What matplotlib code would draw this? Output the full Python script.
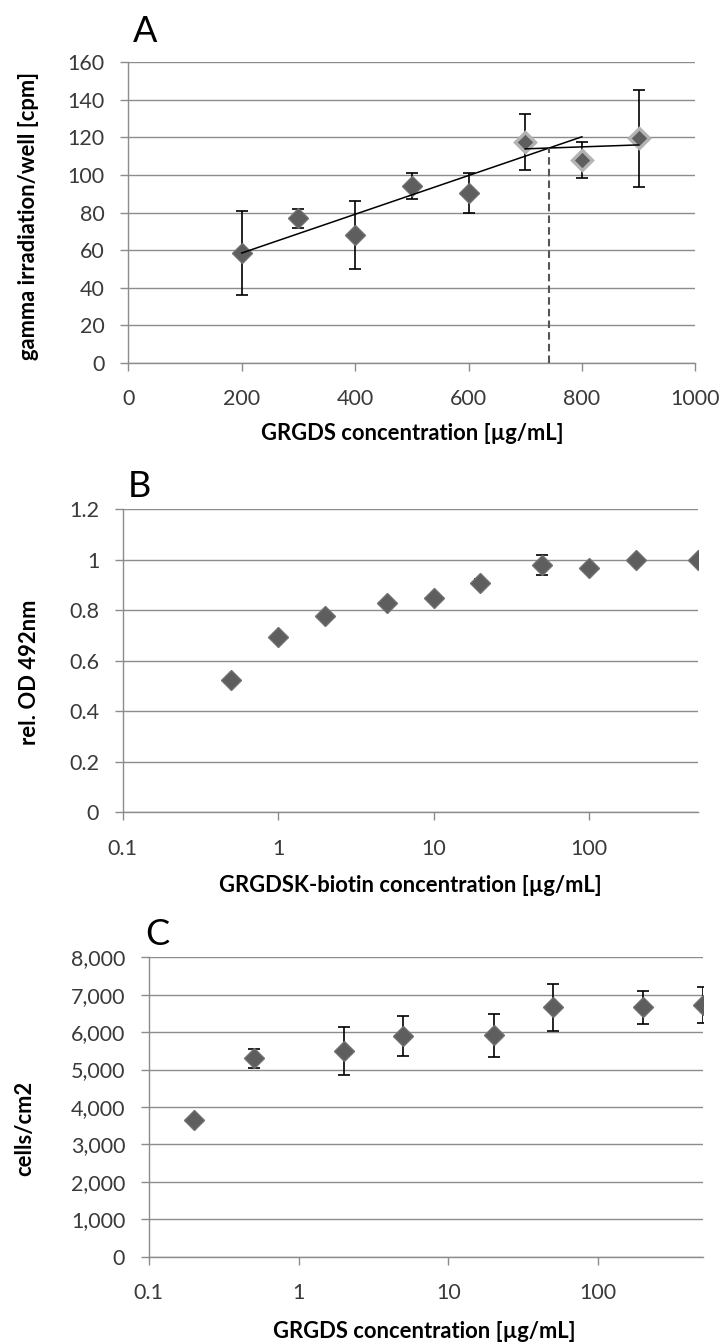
import numpy as np
import matplotlib
matplotlib.use("Agg")
import matplotlib.pyplot as plt
from matplotlib.ticker import FixedLocator, FuncFormatter, NullLocator

# ---- Panel A: gamma counts per well vs. GRGDS concentration ----
conc_a = [200, 300, 400, 500, 600, 700, 800, 900]
cpm_a = [58.5, 77, 68, 94, 90.5, 117.4, 108, 119.5]
cpm_a_err = [22.5, 5, 18, 7, 10.5, 15, 9.5, 26]
rising_idx = slice(0, 6)      # 200-700 ug/mL: rising part
plateau_idx = slice(5, 8)     # 700-900 ug/mL: plateau
rising_line_end = 800
saturation_conc = 742

# ---- Panel B: relative OD vs. GRGDSK-biotin concentration ----
conc_b = [0.5, 1, 2, 5, 10, 20, 50, 100, 200, 500]
od_b = [0.524, 0.695, 0.777, 0.828, 0.848, 0.907, 0.979, 0.969, 0.999, 1.0]
od_b_err = [0.01, 0.01, 0.012, 0.01, 0.012, 0.015, 0.04, 0.012, 0.01, 0.008]

# ---- Panel C: adherent cells vs. GRGDS concentration ----
conc_c = [0.2, 0.5, 2, 5, 20, 50, 200, 500]
cells_c = [3650, 5300, 5500, 5905, 5913, 6662, 6662, 6733]
cells_c_err = [60, 250, 635, 535, 570, 625, 445, 480]

W, H = 723, 1344
plt.rcParams['font.family'] = ['Lato', 'DejaVu Sans']

GRID = '#8c8c8c'
TICKTXT = '#3a3a3a'
MFACE = '#5e5e5e'
MEDGE = '#707070'
HALO = '#b3b3b3'
TICK_FS = 15.5
LABEL_FS = 15.8

fig = plt.figure(figsize=(W / 100, H / 100), dpi=100)


def axes_px(left, right, top, bottom):
    return fig.add_axes([left / W, 1 - bottom / H, (right - left) / W, (bottom - top) / H])


def style(ax):
    for s in ('top', 'right'):
        ax.spines[s].set_visible(False)
    for s in ('left', 'bottom'):
        ax.spines[s].set_color(GRID)
        ax.spines[s].set_linewidth(1.0)
    ax.tick_params(axis='both', direction='out', length=6, width=1.0, color=GRID,
                   labelsize=TICK_FS, labelcolor=TICKTXT)
    ax.tick_params(axis='y', pad=11)
    ax.tick_params(axis='x', pad=13)
    ax.yaxis.grid(True, color=GRID, lw=1.0)
    ax.xaxis.grid(False)
    ax.set_axisbelow(True)
    ax.minorticks_off()


def labels(ax, xlabel, xlab_px, ylabel, ylab_px):
    ax.set_xlabel(xlabel, fontsize=LABEL_FS, fontweight='bold', va='center', ha='center')
    ax.xaxis.set_label_coords(xlab_px[0] / W, 1 - xlab_px[1] / H, transform=fig.transFigure)
    ax.set_ylabel(ylabel, fontsize=LABEL_FS, fontweight='bold', va='center', ha='center')
    ax.yaxis.set_label_coords(ylab_px[0] / W, 1 - ylab_px[1] / H, transform=fig.transFigure)


def points(ax, x, y, err, halo=False, ms=10.3):
    ax.errorbar(x, y, yerr=err, fmt='none', ecolor='black', elinewidth=1.2,
                capsize=4.2, capthick=1.2, zorder=3)
    if halo:
        ax.plot(x, y, ls='none', marker='D', ms=ms, mfc=MFACE, mec=HALO, mew=2.4, zorder=4)
    else:
        ax.plot(x, y, ls='none', marker='D', ms=ms, mfc=MFACE, mec=MEDGE, mew=1.0, zorder=4)


# ---------------- Panel A ----------------
axA = axes_px(128.3, 695.3, 62.3, 362.8)
style(axA)
axA.set_xlim(0, 1000)
axA.set_ylim(0, 160)
axA.xaxis.set_major_locator(FixedLocator(np.arange(0, 1001, 200)))
axA.yaxis.set_major_locator(FixedLocator(np.arange(0, 161, 20)))
axA.xaxis.set_major_formatter(FuncFormatter(lambda v, p: f'{v:g}'))
axA.yaxis.set_major_formatter(FuncFormatter(lambda v, p: f'{v:g}'))

xa = np.array(conc_a, float)
ya = np.array(cpm_a, float)
ea = np.array(cpm_a_err, float)
points(axA, xa[:5], ya[:5], ea[:5])
points(axA, xa[5:], ya[5:], ea[5:], halo=True)

k1, b1 = np.polyfit(xa[rising_idx], ya[rising_idx], 1)
k2, b2 = np.polyfit(xa[plateau_idx], ya[plateau_idx], 1)
x1 = np.array([xa[0], rising_line_end])
x2 = np.array([xa[plateau_idx][0], xa[-1]])
axA.plot(x1, k1 * x1 + b1, color='black', lw=1.1, zorder=5)
axA.plot(x2, k2 * x2 + b2, color='black', lw=1.1, zorder=5)
axA.plot([saturation_conc, saturation_conc], [0, k2 * saturation_conc + b2],
         color='#555555', lw=1.5, dashes=(3.6, 2.0), zorder=5)

labels(axA, 'GRGDS concentration [µg/mL]', (412, 433.3),
       'gamma irradiation/well [cpm]', (28.3, 216))
fig.text(133 / W, 1 - 41.7 / H, 'A', fontsize=26, ha='left', va='baseline', color='black')

# ---------------- Panel B ----------------
axB = axes_px(122.8, 697.6, 509.3, 812.3)
style(axB)
axB.set_xscale('log')
axB.set_xlim(0.1, 500)
axB.set_ylim(0, 1.2)
axB.xaxis.set_major_locator(FixedLocator([0.1, 1, 10, 100]))
axB.xaxis.set_minor_locator(NullLocator())
axB.yaxis.set_major_locator(FixedLocator(np.round(np.arange(0, 1.21, 0.2), 1)))
axB.xaxis.set_major_formatter(FuncFormatter(lambda v, p: f'{v:g}'))
axB.yaxis.set_major_formatter(FuncFormatter(lambda v, p: f'{v:g}'))
points(axB, conc_b, od_b, od_b_err)
labels(axB, 'GRGDSK-biotin concentration [µg/mL]', (410, 885),
       'rel. OD 492nm', (30, 672))
fig.text(128 / W, 1 - 496.7 / H, 'B', fontsize=26, ha='left', va='baseline', color='black')

# ---------------- Panel C ----------------
axC = axes_px(148.8, 703, 957.3, 1256.7)
style(axC)
axC.set_xscale('log')
axC.set_xlim(0.1, 500)
axC.set_ylim(0, 8000)
axC.xaxis.set_major_locator(FixedLocator([0.1, 1, 10, 100]))
axC.xaxis.set_minor_locator(NullLocator())
axC.yaxis.set_major_locator(FixedLocator(np.arange(0, 8001, 1000)))
axC.xaxis.set_major_formatter(FuncFormatter(lambda v, p: f'{v:g}'))
axC.yaxis.set_major_formatter(FuncFormatter(lambda v, p: f'{v:,.0f}'))
points(axC, conc_c, cells_c, cells_c_err, ms=9.8)
labels(axC, 'GRGDS concentration [µg/mL]', (424.4, 1331.7),
       'cells/cm2', (25, 1128))
fig.text(145 / W, 1 - 945 / H, 'C', fontsize=26, ha='left', va='baseline', color='black')

fig.savefig('out.png', dpi=100, facecolor='white')
